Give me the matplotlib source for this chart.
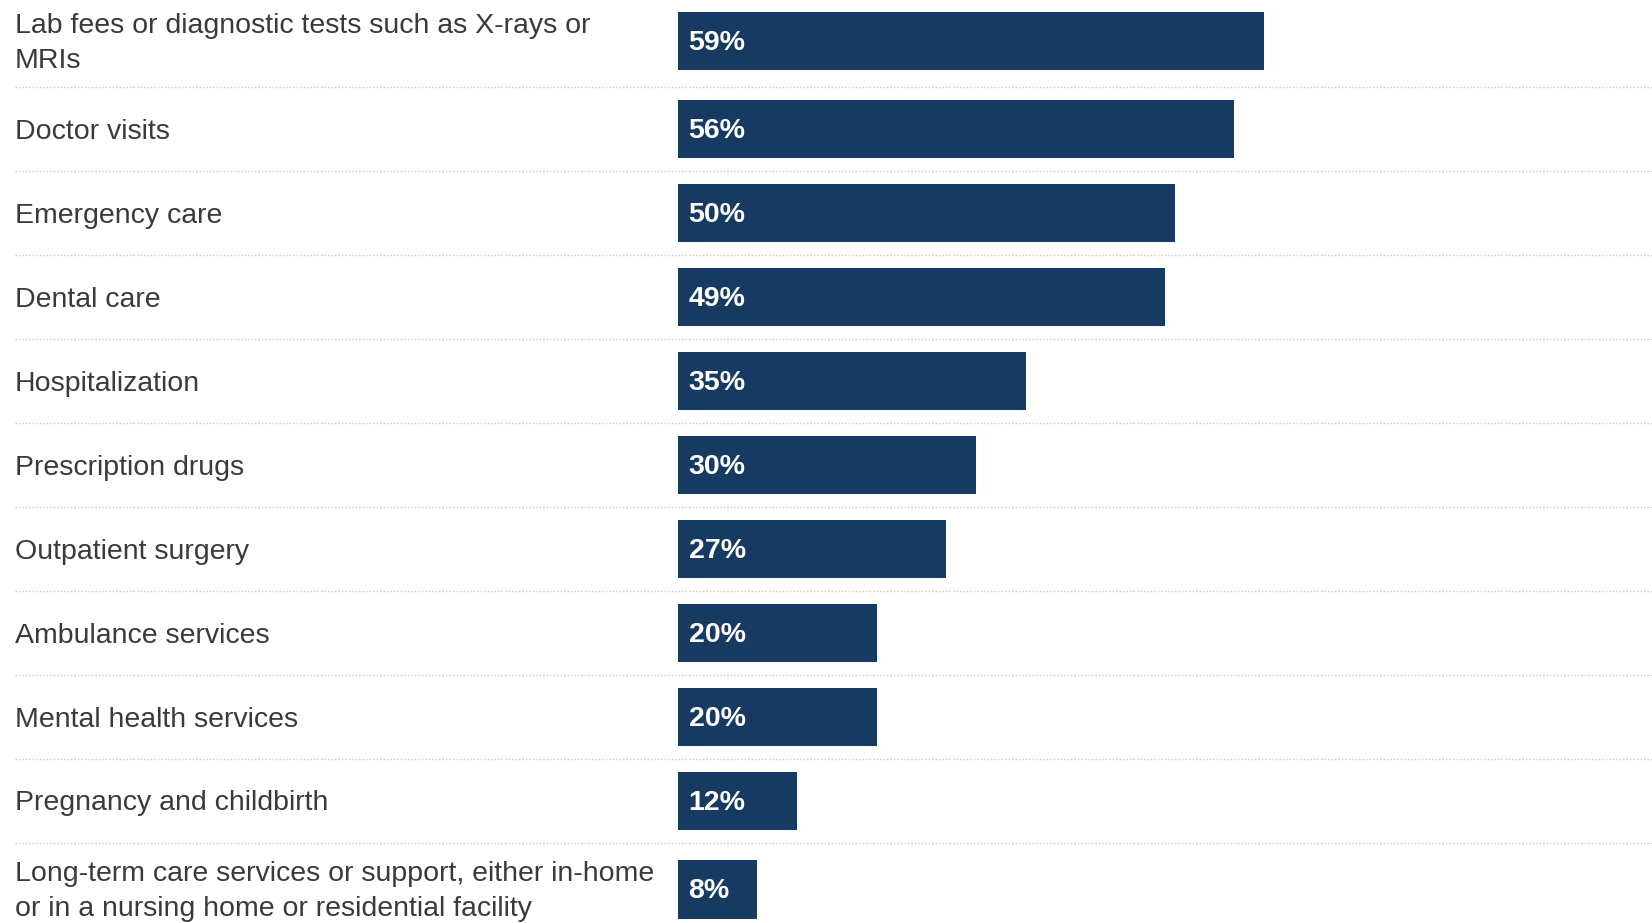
import matplotlib.pyplot as plt
import matplotlib.transforms as mtransforms
from matplotlib.lines import Line2D

categories = [
    "Lab fees or diagnostic tests such as X-rays or\nMRIs",
    "Doctor visits",
    "Emergency care",
    "Dental care",
    "Hospitalization",
    "Prescription drugs",
    "Outpatient surgery",
    "Ambulance services",
    "Mental health services",
    "Pregnancy and childbirth",
    "Long-term care services or support, either in-home\nor in a nursing home or residential facility",
]
values = [59, 56, 50, 49, 35, 30, 27, 20, 20, 12, 8]

bar_color = "#163a62"
text_color = "#3a3a3a"

# rows with two-line labels are a bit taller
heights = [1.1 if "\n" in c else 1.0 for c in categories]
starts = []
acc = 0.0
for h in heights:
    starts.append(acc)
    acc += h
ypos = [s + h / 2 for s, h in zip(starts, heights)]

fig = plt.figure(figsize=(16.52, 9.23), dpi=100)
ax = fig.add_axes([678 / 1652, 0, 1 - 678 / 1652, 1])

ax.barh(ypos, values, height=0.70, color=bar_color, align="center")

ax.set_xlim(0, (1652 - 678) / 9.93)
ax.set_ylim(0.063 + 10.99, 0.063)
ax.axis("off")

# category labels on the left, figure x / data y
trans = mtransforms.blended_transform_factory(fig.transFigure, ax.transData)
for y, lab in zip(ypos, categories):
    ax.text(15 / 1652, y + 0.03, lab, transform=trans, ha="left", va="center",
            fontsize=20.5, color=text_color, family="Liberation Sans",
            linespacing=1.42, clip_on=False)

# value labels inside the bars
for y, v in zip(ypos, values):
    ax.text(1.06, y + 0.02, f"{v}%", ha="left", va="center", fontsize=20.5,
            color="white", family="Liberation Sans", fontweight="bold")

# dotted separators between rows
for s in starts[1:]:
    ln = Line2D([15 / 1652, 1], [s, s], transform=trans,
                color="#c8c8c8", lw=1, linestyle=(0, (1, 1.5)), clip_on=False)
    ax.add_line(ln)

fig.savefig("out.png", dpi=100)
